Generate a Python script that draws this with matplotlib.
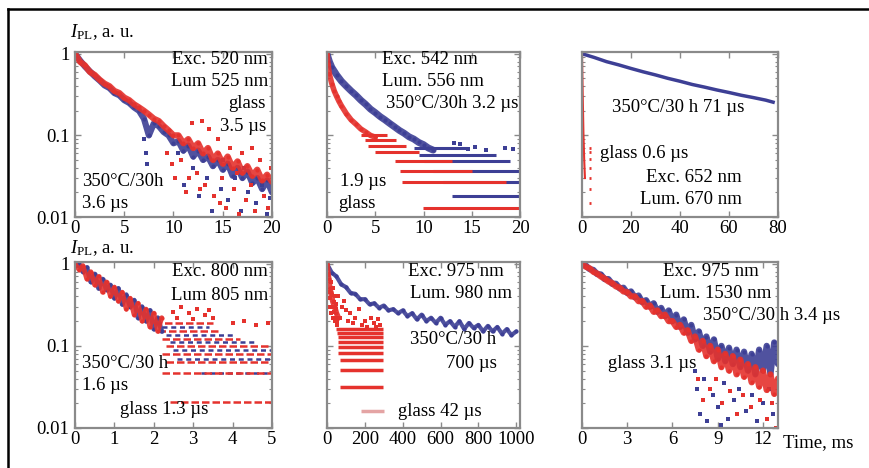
import matplotlib
matplotlib.use("Agg")
import matplotlib.pyplot as plt
from matplotlib.lines import Line2D
from matplotlib.ticker import LogLocator, NullFormatter, FixedLocator, FixedFormatter

plt.rcParams['font.family'] = ['Liberation Serif', 'DejaVu Serif']
plt.rcParams['mathtext.fontset'] = 'custom'
plt.rcParams['mathtext.rm'] = 'Liberation Serif'
plt.rcParams['mathtext.it'] = 'Liberation Serif:italic'

BLUE = '#3d3f95'
RED = '#e5322d'
PINK = '#e4a4a4'
GRAY = '#8a8a8a'
FS = 13.5

# ---------------- data ----------------
# Panel 1 : Exc 520 / Lum 525, time in us
p1_t = [0, 0.5, 1, 1.5, 2, 2.5, 3, 3.5, 4, 4.5, 5, 5.5, 6, 6.5, 7, 7.5, 8, 8.5, 9, 9.5,
        10, 10.5, 11, 11.5, 12, 12.5, 13, 13.5, 14, 14.5, 15, 15.5, 16, 16.5, 17, 17.5,
        18, 18.5, 19, 19.5, 20]
p1_red = [1.0, 0.8, 0.72, 0.6, 0.55, 0.48, 0.43, 0.40, 0.35, 0.33, 0.29, 0.27, 0.24, 0.22,
          0.2, 0.18, 0.16, 0.15, 0.13, 0.115, 0.1, 0.10, 0.08, 0.09, 0.07, 0.08, 0.06, 0.07,
          0.05, 0.06, 0.045, 0.055, 0.04, 0.048, 0.035, 0.042, 0.032, 0.038, 0.028, 0.033, 0.027]
p1_blue = [1.0, 0.83, 0.70, 0.61, 0.53, 0.47, 0.41, 0.38, 0.33, 0.31, 0.27, 0.25, 0.22, 0.20,
           0.16, 0.10, 0.14, 0.13, 0.11, 0.10, 0.08, 0.085, 0.065, 0.075, 0.055, 0.065, 0.05,
           0.055, 0.042, 0.05, 0.038, 0.045, 0.032, 0.04, 0.03, 0.036, 0.026, 0.03, 0.022, 0.028, 0.02]
p1_red_dots_x = [10.2, 10.8, 11.3, 11.9, 12.4, 12.9, 13.2, 13.6, 14.1, 14.5, 14.9, 15.3, 15.7,
                 16.1, 16.6, 17.0, 17.4, 17.9, 18.3, 18.8, 19.2, 19.6, 19.9, 9.3, 9.8, 11.6,
                 12.7, 14.7, 16.4, 18.0]
p1_red_dots_y = [0.03, 0.05, 0.02, 0.14, 0.035, 0.15, 0.025, 0.12, 0.018, 0.09, 0.03, 0.013,
                 0.07, 0.022, 0.011, 0.06, 0.016, 0.025, 0.012, 0.05, 0.018, 0.013, 0.04, 0.06,
                 0.045, 0.03, 0.022, 0.015, 0.035, 0.07]
p1_blue_dots_x = [7.0, 7.2, 7.3, 10.5, 11.1, 12.0, 12.6, 13.4, 13.9, 14.8, 15.5, 16.2, 16.9,
                  17.6, 18.4, 19.0, 19.5, 19.8, 15.0, 17.2]
p1_blue_dots_y = [0.09, 0.06, 0.045, 0.06, 0.025, 0.04, 0.018, 0.03, 0.012, 0.022, 0.016, 0.03,
                  0.012, 0.02, 0.015, 0.025, 0.011, 0.017, 0.05, 0.04]

# Panel 2 : Exc 542 / Lum 556
p2_blue_t = [0, 0.25, 0.5, 1, 1.5, 2, 2.5, 3, 3.5, 4, 4.5, 5, 5.5, 6, 6.5, 7, 7.5, 8, 8.5, 9,
             9.5, 10, 10.5, 11]
p2_blue = [1.0, 0.8, 0.68, 0.55, 0.46, 0.40, 0.35, 0.31, 0.27, 0.24, 0.21, 0.19, 0.17, 0.155,
           0.14, 0.127, 0.115, 0.106, 0.096, 0.09, 0.082, 0.077, 0.07, 0.066]
p2_red_t = [0, 0.1, 0.25, 0.5, 0.75, 1, 1.25, 1.5, 2, 2.5, 3, 3.5, 4, 4.5, 5]
p2_red = [1.0, 0.75, 0.56, 0.43, 0.35, 0.3, 0.26, 0.23, 0.185, 0.155, 0.137, 0.12, 0.11,
          0.1, 0.095]
p2_red_lvl = [0.10, 0.087, 0.074, 0.062, 0.049, 0.037, 0.027, 0.013]
p2_red_x0 = [3.5, 3.9, 4.3, 5.0, 7.0, 7.6, 7.8, 9.9]
p2_red_x1 = [6.2, 7.2, 8.2, 9.5, 13.0, 15.0, 18.6, 20.0]
p2_blue_lvl = [0.07, 0.058, 0.048, 0.037, 0.027, 0.018]
p2_blue_x0 = [9.0, 9.5, 10.0, 11.0, 12.0, 13.0]
p2_blue_x1 = [14.5, 17.5, 19.0, 20.0, 20.0, 20.0]
p2_blue_dots_x = [14.6, 15.3, 16.5, 18.4, 19.3, 13.2, 13.8]
p2_blue_dots_y = [0.068, 0.072, 0.066, 0.07, 0.068, 0.08, 0.078]

# Panel 3 : Exc 652 / Lum 670
p3_blue_t = [0, 5, 10, 15, 20, 25, 30, 35, 40, 45, 50, 55, 60, 65, 70, 75, 78]
p3_blue = [1.0, 0.9, 0.8, 0.73, 0.66, 0.6, 0.55, 0.5, 0.46, 0.42, 0.39, 0.36, 0.335, 0.31,
           0.29, 0.27, 0.255]
p3_red_t = [0, 0.3, 0.6, 0.9, 1.2]
p3_red = [1.0, 0.3, 0.1, 0.05, 0.03]
p3_red_lvl = [0.071, 0.062, 0.051, 0.04, 0.03, 0.022, 0.015, 0.01]
p3_red_x0 = [2.8, 2.8, 2.8, 2.8, 2.8, 2.8, 2.8, 2.8]
p3_red_x1 = [3.8, 3.8, 3.8, 3.8, 3.8, 3.8, 3.8, 3.8]

# Panel 4 : Exc 800 / Lum 805
p4_t = [0, 0.1, 0.2, 0.3, 0.4, 0.5, 0.6, 0.7, 0.8, 0.9, 1.0, 1.1, 1.2, 1.3, 1.4, 1.5, 1.6,
        1.7, 1.8, 1.9, 2.0, 2.1, 2.2]
p4_red = [1.0, 0.85, 0.95, 0.65, 0.8, 0.55, 0.7, 0.45, 0.6, 0.4, 0.52, 0.35, 0.45, 0.28, 0.38,
          0.24, 0.33, 0.2, 0.28, 0.17, 0.25, 0.15, 0.22]
p4_blue = [0.95, 1.0, 0.8, 0.9, 0.6, 0.75, 0.5, 0.65, 0.48, 0.55, 0.38, 0.5, 0.32, 0.42, 0.3,
           0.36, 0.22, 0.3, 0.2, 0.27, 0.16, 0.22, 0.15]
p4_red_lvl = [0.19, 0.15, 0.12, 0.10, 0.08, 0.063, 0.047, 0.021]
p4_red_x0 = [2.0, 2.1, 2.2, 2.3, 2.2, 2.3, 2.2, 2.4]
p4_red_x1 = [3.5, 3.7, 4.2, 5.0, 5.0, 5.0, 5.0, 5.0]
p4_blue_lvl = [0.17, 0.135, 0.11, 0.09, 0.07, 0.047]
p4_blue_x0 = [2.2, 2.3, 2.4, 2.5, 2.6, 3.2]
p4_blue_x1 = [3.4, 4.0, 4.6, 5.0, 5.0, 5.0]
p4_dots_x = [2.5, 2.7, 2.9, 3.1, 3.3, 3.5, 4.0, 4.3, 4.6, 4.9, 2.6, 3.0, 3.4]
p4_dots_y = [0.26, 0.3, 0.25, 0.28, 0.24, 0.22, 0.19, 0.2, 0.18, 0.19, 0.22, 0.21, 0.27]

# Panel 5 : Exc 975 / Lum 980, time in us
p5_blue_t = [0, 25, 50, 75, 100, 125, 150, 175, 200, 225, 250, 275, 300, 325, 350, 375, 400,
             425, 450, 475, 500, 525, 550, 575, 600, 625, 650, 675, 700, 725, 750, 775, 800,
             825, 850, 875, 900, 925, 950, 975, 1000]
p5_blue = [1.0, 0.78, 0.7, 0.56, 0.52, 0.44, 0.43, 0.37, 0.37, 0.32, 0.33, 0.29, 0.31, 0.27,
           0.28, 0.25, 0.27, 0.23, 0.25, 0.21, 0.24, 0.2, 0.22, 0.19, 0.22, 0.18, 0.2, 0.17,
           0.2, 0.16, 0.19, 0.165, 0.18, 0.15, 0.175, 0.15, 0.17, 0.14, 0.16, 0.135, 0.15]
p5_red_t = [0, 5, 10, 15, 20, 30, 40, 50, 60]
p5_red = [1.0, 0.75, 0.65, 0.5, 0.45, 0.35, 0.3, 0.25, 0.22]
p5_red_lvl = [0.16, 0.145, 0.128, 0.11, 0.097, 0.083, 0.067, 0.051, 0.032]
p5_red_x0 = [50, 55, 60, 60, 60, 60, 70, 70, 70]
p5_red_x1 = [295, 295, 295, 295, 295, 295, 295, 295, 295]
p5_pink_lvl = [0.016]
p5_pink_x0 = [180]
p5_pink_x1 = [300]
p5_dots_x = [80, 100, 120, 150, 170, 200, 230, 250, 270, 90, 60, 70, 110, 140, 260, 280, 185,
             210, 10, 15, 20, 25, 30, 35, 40, 45, 50, 55, 12, 22, 32, 42, 52, 28, 38, 48]
p5_dots_y = [0.3, 0.27, 0.25, 0.22, 0.28, 0.2, 0.22, 0.19, 0.21, 0.35, 0.4, 0.22, 0.2, 0.19,
             0.17, 0.18, 0.18, 0.17, 0.45, 0.38, 0.6, 0.3, 0.5, 0.26, 0.4, 0.22, 0.32, 0.2,
             0.3, 0.25, 0.22, 0.2, 0.18, 0.42, 0.34, 0.28]

# Panel 6 : Exc 975 / Lum 1530, time in ms
p6_t = [0, 0.25, 0.5, 0.75, 1, 1.25, 1.5, 1.75, 2, 2.25, 2.5, 2.75, 3, 3.25, 3.5, 3.75, 4,
        4.25, 4.5, 4.75, 5, 5.25, 5.5, 5.75, 6, 6.25, 6.5, 6.75, 7, 7.25, 7.5, 7.75, 8, 8.25,
        8.5, 8.75, 9, 9.25, 9.5, 9.75, 10, 10.25, 10.5, 10.75, 11, 11.25, 11.5, 11.75, 12,
        12.25, 12.5, 12.75, 13]
p6_red = [1.0, 0.92, 0.88, 0.8, 0.76, 0.7, 0.66, 0.61, 0.58, 0.53, 0.51, 0.46, 0.45, 0.40,
          0.40, 0.35, 0.35, 0.3, 0.31, 0.26, 0.27, 0.23, 0.24, 0.2, 0.2, 0.17, 0.18, 0.145, 0.155,
          0.115, 0.13, 0.09, 0.115, 0.075, 0.1, 0.065, 0.09, 0.055, 0.08, 0.05, 0.075, 0.045,
          0.068, 0.042, 0.06, 0.036, 0.055, 0.032, 0.05, 0.029, 0.045, 0.026, 0.04]
p6_blue = [0.98, 0.95, 0.86, 0.84, 0.75, 0.74, 0.65, 0.65, 0.57, 0.57, 0.5, 0.51, 0.44, 0.46,
           0.39, 0.41, 0.34, 0.36, 0.3, 0.33, 0.26, 0.29, 0.23, 0.27, 0.2, 0.24, 0.17, 0.21,
           0.145, 0.18, 0.12, 0.15, 0.1, 0.13, 0.085, 0.12, 0.07, 0.1, 0.065, 0.095, 0.06, 0.09,
           0.055, 0.085, 0.05, 0.08, 0.045, 0.09, 0.05, 0.1, 0.045, 0.11, 0.06]
p6_blue_dots_x = [7.6, 7.8, 8.1, 8.3, 8.7, 9.0, 9.4, 9.7, 10.1, 10.4, 10.9, 11.3, 11.6, 12.0,
                  12.4, 12.7, 7.5, 9.2]
p6_blue_dots_y = [0.03, 0.015, 0.04, 0.012, 0.025, 0.018, 0.035, 0.013, 0.022, 0.03, 0.016,
                  0.025, 0.012, 0.02, 0.03, 0.015, 0.05, 0.011]
p6_red_dots_x = [7.7, 8.0, 8.5, 8.9, 9.3, 9.8, 10.3, 10.7, 11.2, 11.8, 12.3, 12.6, 12.9]
p6_red_dots_y = [0.04, 0.022, 0.03, 0.04, 0.02, 0.028, 0.015, 0.025, 0.018, 0.022, 0.013,
                 0.02, 0.01]

y_ticks = [0.01, 0.1, 1]
y_tick_labels = ['0.01', '0.1', '1']

# ---------------- figure ----------------
W, H = 869, 468
fig = plt.figure(figsize=(W / 100, H / 100), dpi=100)

cols = [(75, 272), (327, 520), (582, 778)]
rows = [(52, 217), (262, 428)]


def make_ax(r, c):
    x0, x1 = cols[c]
    y0, y1 = rows[r]
    return fig.add_axes([x0 / W, 1 - y1 / H, (x1 - x0) / W, (y1 - y0) / H])


def style(ax, xlim, xticks, ylabels):
    ax.set_yscale('log')
    ax.set_ylim(0.01, 1.05)
    ax.set_xlim(*xlim)
    ax.set_xticks(xticks)
    ax.set_xticklabels([str(v) for v in xticks], fontsize=FS)
    ax.yaxis.set_major_locator(FixedLocator(y_ticks))
    ax.yaxis.set_minor_locator(LogLocator(base=10, subs=(2, 3, 4, 5, 6, 7, 8, 9)))
    ax.yaxis.set_minor_formatter(NullFormatter())
    if ylabels:
        ax.yaxis.set_major_formatter(FixedFormatter(y_tick_labels))
    else:
        ax.yaxis.set_major_formatter(NullFormatter())
    ax.tick_params(axis='both', which='both', direction='in', top=True, right=True,
                   color=GRAY, labelsize=FS)
    ax.tick_params(axis='x', pad=2)
    ax.tick_params(axis='y', pad=4)
    ax.tick_params(which='major', length=4, width=1)
    ax.tick_params(which='minor', length=2, width=0.8)
    for s in ax.spines.values():
        s.set_color(GRAY)
        s.set_linewidth(1.6)


def band(ax, x, y, color, lw=4.5):
    ax.plot(x, y, color=color, lw=lw, solid_joinstyle='round', solid_capstyle='round', alpha=0.9)
    ax.plot(x, y, 'o', color=color, ms=3, mew=0)


def dots(ax, x, y, color):
    ax.plot(x, y, linestyle='none', marker='s', ms=2.2, mew=0, color=color)


def streaks(ax, lvl, x0, x1, color, lw=2.2, ls='solid'):
    ax.hlines(lvl, x0, x1, colors=color, lw=lw, linestyles=ls)


def txt(ax_fig_x, ax_fig_y, s, ha='left'):
    fig.text(ax_fig_x / W, 1 - ax_fig_y / H, s, fontsize=FS, ha=ha, va='center')


# Panel 1
ax = make_ax(0, 0)
style(ax, (0, 20), [0, 5, 10, 15, 20], True)
dots(ax, p1_blue_dots_x, p1_blue_dots_y, BLUE)
band(ax, p1_t, p1_blue, BLUE)
dots(ax, p1_red_dots_x, p1_red_dots_y, RED)
band(ax, p1_t, p1_red, RED)

# Panel 2
ax = make_ax(0, 1)
style(ax, (0, 20), [0, 5, 10, 15, 20], False)
band(ax, p2_blue_t, p2_blue, BLUE, lw=5)
streaks(ax, p2_blue_lvl, p2_blue_x0, p2_blue_x1, BLUE)
dots(ax, p2_blue_dots_x, p2_blue_dots_y, BLUE)
band(ax, p2_red_t, p2_red, RED, lw=4)
streaks(ax, p2_red_lvl, p2_red_x0, p2_red_x1, RED)

# Panel 3
ax = make_ax(0, 2)
style(ax, (0, 80), [0, 20, 40, 60, 80], False)
ax.plot(p3_blue_t, p3_blue, color=BLUE, lw=2.5)
ax.plot(p3_red_t, p3_red, color=RED, lw=1.5)
streaks(ax, p3_red_lvl, p3_red_x0, p3_red_x1, RED, lw=2.0)

# Panel 4
ax = make_ax(1, 0)
style(ax, (0, 5), [0, 1, 2, 3, 4, 5], True)
streaks(ax, p4_blue_lvl, p4_blue_x0, p4_blue_x1, BLUE, lw=1.8, ls=(0, (2, 1.5)))
streaks(ax, p4_red_lvl, p4_red_x0, p4_red_x1, RED, lw=1.8, ls=(0, (3, 1.2)))
dots(ax, p4_dots_x, p4_dots_y, RED)
band(ax, p4_t, p4_blue, BLUE, lw=3.5)
band(ax, p4_t, p4_red, RED, lw=3.5)

# Panel 5
ax = make_ax(1, 1)
style(ax, (0, 1020), [0, 200, 400, 600, 800, 1000], False)
band(ax, p5_blue_t, p5_blue, BLUE, lw=3)
dots(ax, p5_dots_x, p5_dots_y, RED)
band(ax, p5_red_t, p5_red, RED, lw=4)
streaks(ax, p5_red_lvl, p5_red_x0, p5_red_x1, RED, lw=2.5)
streaks(ax, p5_pink_lvl, p5_pink_x0, p5_pink_x1, PINK, lw=2.5)

# Panel 6
ax = make_ax(1, 2)
style(ax, (0, 13), [0, 3, 6, 9, 12], False)
dots(ax, p6_blue_dots_x, p6_blue_dots_y, BLUE)
band(ax, p6_t, p6_blue, BLUE)
dots(ax, p6_red_dots_x, p6_red_dots_y, RED)
band(ax, p6_t, p6_red, RED)

# ---------------- texts ----------------
ylab = r'$I_{\mathrm{PL}}$, a. u.'
fig.text(70 / W, 1 - 32 / H, ylab, fontsize=FS, ha='left', va='center')
fig.text(70 / W, 1 - 248 / H, ylab, fontsize=FS, ha='left', va='center')

txt(268, 60, 'Exc. 520 nm', 'right')
txt(268, 81, 'Lum 525 nm', 'right')
txt(266, 104, 'glass', 'right')
txt(266, 127, '3.5 µs', 'right')
txt(82, 182, '350°C/30h')
txt(82, 204, '3.6 µs')

txt(430, 60, 'Exc. 542 nm', 'center')
txt(433, 81, 'Lum. 556 nm', 'center')
txt(518, 103, '350°C/30h 3.2 µs', 'right')
txt(340, 182, '1.9 µs')
txt(338, 204, 'glass')

txt(612, 107, '350°C/30 h 71 µs')
txt(600, 154, 'glass 0.6 µs')
txt(742, 178, 'Exc. 652 nm', 'right')
txt(742, 200, 'Lum. 670 nm', 'right')

txt(268, 272, 'Exc. 800 nm', 'right')
txt(268, 295, 'Lum 805 nm', 'right')
txt(82, 364, '350°C/30 h')
txt(82, 386, '1.6 µs')
txt(120, 409, 'glass 1.3 µs')

txt(408, 272, 'Exc. 975 nm')
txt(410, 294, 'Lum. 980 nm')
txt(410, 340, '350°C/30 h')
txt(497, 363, '700 µs', 'right')
txt(398, 412, 'glass 42 µs')

txt(663, 272, 'Exc. 975 nm')
txt(660, 294, 'Lum. 1530 nm')
txt(703, 316, '350°C/30 h 3.4 µs')
txt(608, 363, 'glass 3.1 µs')
txt(783, 443, 'Time, ms')

# outer frame (top and left edges)
fig.add_artist(Line2D([8 / W, 1.0], [1 - 9 / H, 1 - 9 / H], transform=fig.transFigure,
                      color='black', lw=1.8))
fig.add_artist(Line2D([8 / W, 8 / W], [1 - 9 / H, 0.0], transform=fig.transFigure,
                      color='black', lw=1.8))

fig.savefig('out.png', dpi=100)
